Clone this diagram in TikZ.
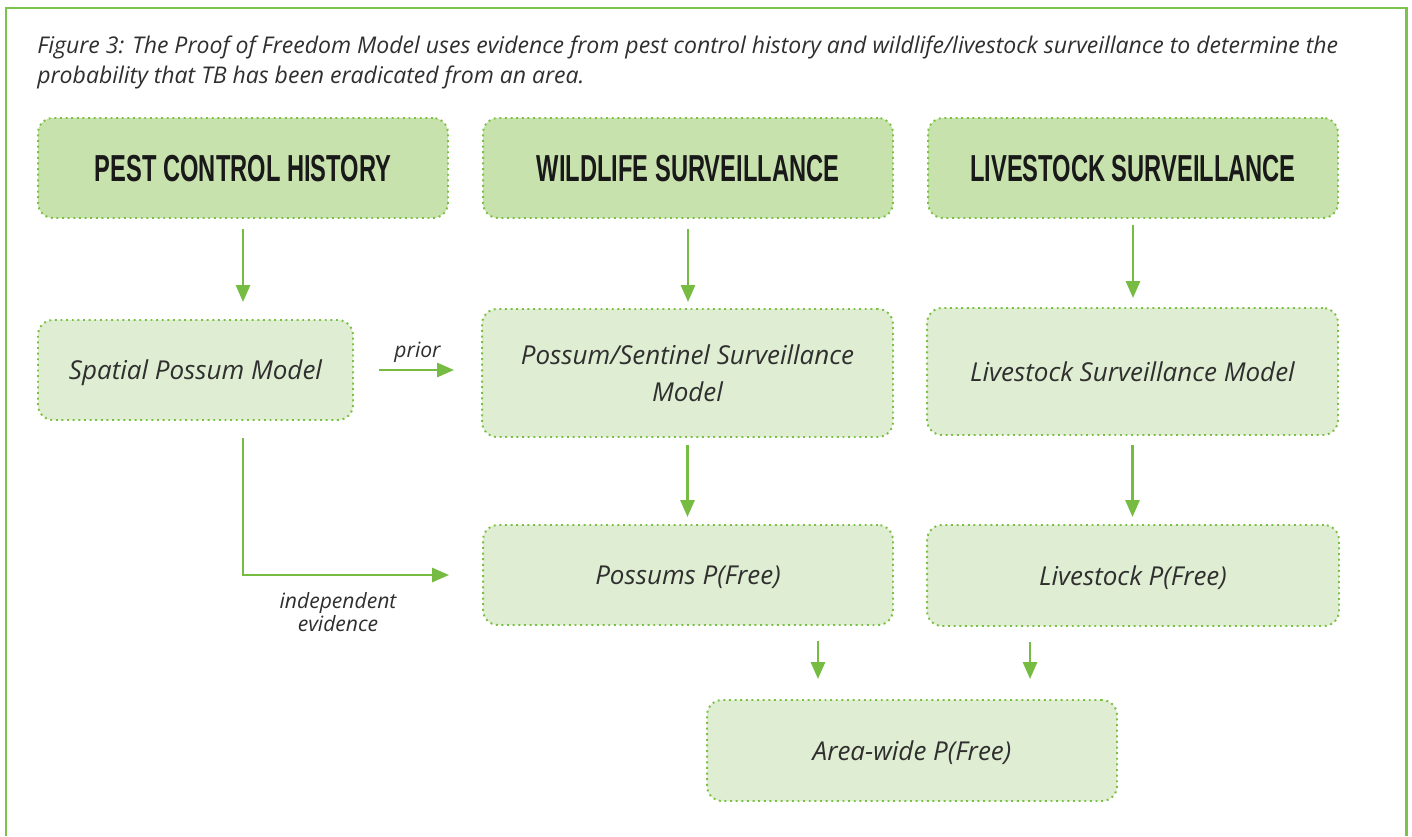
\documentclass[tikz,border=0pt]{standalone}
\usepackage{fontspec}
\usepackage{graphicx}
\usetikzlibrary{arrows.meta}

\newfontfamily\bodyfont{Open Sans}
\newfontfamily\headfont{Liberation Sans}

\definecolor{frameGreen}{HTML}{7DC24B}
\definecolor{arrowGreen}{HTML}{76BC43}
\definecolor{dotGreen}{HTML}{7AC143}
\definecolor{headFill}{HTML}{C8E2AE}
\definecolor{bodyFill}{HTML}{DFEDD2}
\definecolor{textGrey}{HTML}{2F2F2F}

% condensed caps for the three column titles
\newcommand{\headText}[1]{\scalebox{0.63}[1]{\headfont\bfseries #1}}

\tikzset{
  greenbox/.style={draw=dotGreen, line width=1.1pt, dash pattern=on 1.1pt off 2.1pt,
    rounded corners=0.3cm, align=center, text=textGrey, text depth=0pt,
    font=\bodyfont\itshape\fontsize{14.8}{21}\selectfont},
  headbox/.style={greenbox, fill=headFill, minimum width=8.2cm, minimum height=2cm,
    text=black!90, font=\fontsize{21.4}{24}\selectfont},
  modelbox/.style={greenbox, fill=bodyFill},
  flow/.style={arrowGreen, line width=1.6pt, -{Triangle[length=0.34cm, width=0.28cm]}},
  flowlabel/.style={text=textGrey, align=center, inner sep=0,
    font=\bodyfont\itshape\fontsize{12}{11.5}\selectfont},
}

\begin{document}
\begin{tikzpicture}[x=0.02cm, y=-0.02cm]
  \useasboundingbox (0,0) rectangle (1412,836);

  % open frame, no bottom edge
  \draw[frameGreen, line width=1.7pt] (6,836) -- (6,8) -- (1406,8) -- (1406,836);

  % caption
  \node[anchor=north west, align=left, inner sep=0, text=textGrey,
    font=\bodyfont\itshape\fontsize{13.1}{17}\selectfont] (caption) at (37,36)
    {Figure 3: The Proof of Freedom Model uses evidence from pest control history and wildlife/livestock surveillance to determine the\\
     probability that TB has been eradicated from an area.};

  % column titles
  \node[headbox] (pch) at (243,168) {\headText{PEST CONTROL HISTORY}};
  \node[headbox] (wls) at (688,168) {\headText{WILDLIFE SURVEILLANCE}};
  \node[headbox] (lss) at (1133,168) {\headText{LIVESTOCK SURVEILLANCE}};

  % models and results
  \node[modelbox, minimum width=6.3cm, minimum height=2cm] (spm) at (195.5,370) {Spatial Possum Model};
  \node[modelbox, minimum width=8.22cm, minimum height=2.56cm] (psm) at (687.5,373) {Possum/Sentinel Surveillance\\Model};
  \node[modelbox, minimum width=8.22cm, minimum height=2.54cm] (lsm) at (1132.5,371.5) {Livestock Surveillance Model};
  \node[modelbox, minimum width=8.2cm, minimum height=2cm] (ppf) at (688,575) {Possums P(Free)};
  \node[modelbox, minimum width=8.24cm, minimum height=2.02cm] (lpf) at (1133,575.5) {Livestock P(Free)};
  \node[modelbox, minimum width=8.2cm, minimum height=2.02cm] (apf) at (912,750.5) {Area-wide P(Free)};

  % titles down to models
  \draw[flow, shorten <=0.2cm, shorten >=0.34cm] (pch.south) -- (pch.south |- spm.north);
  \draw[flow, shorten <=0.2cm, shorten >=0.12cm] (wls.south) -- (wls.south |- psm.north);
  \draw[flow, shorten <=0.12cm, shorten >=0.18cm] (lss.south) -- (lss.south |- lsm.north);

  % models down to P(Free)
  \draw[flow, shorten <=0.14cm, shorten >=0.14cm] (psm.south) -- (psm.south |- ppf.north);
  \draw[flow, shorten <=0.18cm, shorten >=0.14cm] (lsm.south) -- (lsm.south |- lpf.north);

  % possum model feeds the surveillance model and the possum result
  \draw[flow, shorten <=0.5cm, shorten >=0.54cm] (spm.east) -- (spm.east -| psm.west)
    node[midway, above=0.12cm, flowlabel] (prior) {prior};
  \draw[flow, shorten <=0.34cm, shorten >=0.66cm] (pch.south |- spm.south) |- (ppf.west);
  \node[flowlabel] (indep) at (338,612) {independent\\evidence};

  % both results into the area-wide result
  \draw[flow, shorten <=0.3cm, shorten >=0.4cm] ([xshift=2.6cm]ppf.south) -- ([xshift=2.6cm]ppf.south |- apf.north);
  \draw[flow, shorten <=0.3cm, shorten >=0.4cm] ([xshift=-2.06cm]lpf.south) -- ([xshift=-2.06cm]lpf.south |- apf.north);
\end{tikzpicture}
\end{document}
